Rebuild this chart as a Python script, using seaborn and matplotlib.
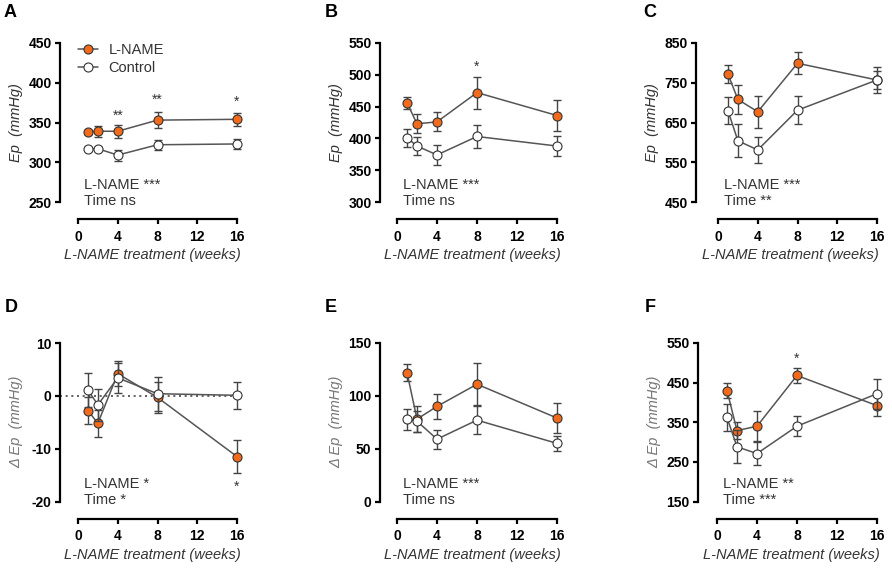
import numpy as np
import pandas as pd
import matplotlib.pyplot as plt
import seaborn as sns

# ── data ────────────────────────────────────────────────────────
weeks = [1, 2, 4, 8, 16]

# A: Ep
a_lname = [338, 339, 339, 353, 354]
a_lname_err = [3, 7, 8, 10, 8]
a_ctrl = [317, 317, 309, 322, 323]
a_ctrl_err = [2, 2, 7, 6, 6]

# B: Ep
b_lname = [456, 423, 426, 472, 436]
b_lname_err = [9, 15, 15, 25, 24]
b_ctrl = [401, 388, 374, 403, 388]
b_ctrl_err = [14, 14, 16, 18, 16]

# C: Ep
c_lname = [772, 708, 677, 799, 757]
c_lname_err = [22, 37, 40, 28, 33]
c_ctrl = [680, 604, 581, 681, 757]
c_ctrl_err = [35, 42, 32, 35, 22]

# D: delta Ep
d_lname = [-2.8, -5.2, 4.2, -0.3, -11.5]
d_lname_err = [2.6, 2.6, 2.3, 3.0, 3.2]
d_ctrl = [1.1, -1.7, 3.4, 0.4, 0.1]
d_ctrl_err = [3.3, 3.0, 2.8, 3.2, 2.5]

# E: delta Ep
e_lname = [122, 78, 90, 111, 79]
e_lname_err = [8, 12, 12, 20, 14]
e_ctrl = [78, 76, 59, 77, 55]
e_ctrl_err = [10, 10, 9, 13, 7]

# F: delta Ep
f_lname = [430, 329, 340, 468, 392]
f_lname_err = [20, 22, 38, 20, 25]
f_ctrl = [362, 288, 271, 340, 422]
f_ctrl_err = [35, 42, 30, 25, 38]

x_ticks = [0, 4, 8, 12, 16]

# ── style ───────────────────────────────────────────────────────
sns.set_theme(style="ticks")
plt.rcParams["font.family"] = ["Liberation Sans", "DejaVu Sans"]
plt.rcParams["axes.unicode_minus"] = False

ORANGE = "#F26B1D"
EDGE = "#333333"
LINE = "#555555"
TXT = "#333333"

W, H = 892, 572
fig = plt.figure(figsize=(W / 100, H / 100), dpi=100)
fig.patch.set_facecolor("white")


def add_panel(spine_x, x0, x16, top, bottom):
    # place axes in pixel coords so the layout matches the reference
    ppu = (x16 - x0) / 16
    right = x16 + 8
    ax = fig.add_axes([spine_x / W, 1 - bottom / H,
                       (right - spine_x) / W, (bottom - top) / H])
    ax.set_xlim((spine_x - x0) / ppu, 16 + 8 / ppu)
    return ax


panels = [
    # letter, geometry, lname, lname_err, ctrl, ctrl_err, ylim, yticks, ylabel, stats, stars
    ("A", (60, 78, 237, 43, 202), a_lname, a_lname_err, a_ctrl, a_ctrl_err,
     (250, 450), [250, 300, 350, 400, 450], "Ep  (mmHg)",
     "L-NAME ***\nTime ns", [(4, 358, "**"), (8, 378, "**"), (16, 376, "*")]),
    ("B", (380, 397, 557, 43, 202), b_lname, b_lname_err, b_ctrl, b_ctrl_err,
     (300, 550), [300, 350, 400, 450, 500, 550], "Ep  (mmHg)",
     "L-NAME ***\nTime ns", [(8, 512, "*")]),
    ("C", (696, 718, 877, 43, 202), c_lname, c_lname_err, c_ctrl, c_ctrl_err,
     (450, 850), [450, 550, 650, 750, 850], "Ep  (mmHg)",
     "L-NAME ***\nTime **", []),
    ("D", (60, 78, 237, 343, 501.5), d_lname, d_lname_err, d_ctrl, d_ctrl_err,
     (-20, 10), [-20, -10, 0, 10], "Δ Ep  (mmHg)",
     "L-NAME *\nTime *", [(16, -17.3, "*")]),
    ("E", (380, 397, 557, 343, 501.5), e_lname, e_lname_err, e_ctrl, e_ctrl_err,
     (0, 150), [0, 50, 100, 150], "Δ Ep  (mmHg)",
     "L-NAME ***\nTime ns", []),
    ("F", (698, 717, 877, 343, 501.5), f_lname, f_lname_err, f_ctrl, f_ctrl_err,
     (150, 550), [150, 250, 350, 450, 550], "Δ Ep  (mmHg)",
     "L-NAME **\nTime ***", [(8, 510, "*")]),
]

for i, (letter, geo, ln, ln_err, ct, ct_err, ylim, yticks, ylab, stats, stars) in enumerate(panels):
    spine_x, x0, x16, top, bottom = geo
    ax = add_panel(*geo)
    width_px = x16 + 8 - spine_x

    # L-NAME series
    ax.errorbar(weeks, ln, yerr=ln_err, fmt="none", ecolor="#444444",
                elinewidth=1, capsize=3, capthick=1, zorder=2, clip_on=False)
    sns.lineplot(x=weeks, y=ln, ax=ax, color=LINE, linewidth=1.1, marker="o",
                 markersize=6.5, markerfacecolor=ORANGE, markeredgecolor=EDGE,
                 markeredgewidth=0.8, label="L-NAME", zorder=3, clip_on=False)
    # Control series
    ax.errorbar(weeks, ct, yerr=ct_err, fmt="none", ecolor="#444444",
                elinewidth=1, capsize=3, capthick=1, zorder=4, clip_on=False)
    sns.lineplot(x=weeks, y=ct, ax=ax, color=LINE, linewidth=1.1, marker="o",
                 markersize=6.5, markerfacecolor="white", markeredgecolor=EDGE,
                 markeredgewidth=0.8, label="Control", zorder=5, clip_on=False)

    if letter == "D":
        ax.hlines(0, ax.get_xlim()[0], 16, colors="#444444",
                  linestyles=(0, (1.2, 2.2)), linewidth=1.2, zorder=1)

    ax.set_ylim(*ylim)
    ax.set_yticks(yticks)
    ax.set_xticks(x_ticks)
    ax.set_xlabel("L-NAME treatment (weeks)", fontsize=10.5, fontstyle="italic",
                  color=TXT, labelpad=3)
    ylab_color = TXT if i < 3 else "#777777"
    ax.set_ylabel(ylab, fontsize=10.5, fontstyle="italic", color=ylab_color)
    ax.yaxis.set_label_coords(-37 / width_px, 0.5)

    for side in ["top", "right"]:
        ax.spines[side].set_visible(False)
    for side in ["left", "bottom"]:
        ax.spines[side].set_linewidth(1.6)
        ax.spines[side].set_color("black")
    ax.spines["bottom"].set_position(("outward", 12.5))
    ax.spines["bottom"].set_bounds(0, 16)
    ax.tick_params(axis="both", direction="out", length=3.6, width=1.6,
                   colors="black", labelsize=10, pad=2.5)
    ax.tick_params(axis="x", pad=4)
    for lab in ax.get_xticklabels() + ax.get_yticklabels():
        lab.set_fontweight("bold")

    # stats text
    ax.text((x0 + 6 - spine_x) / width_px, 0.058, stats, transform=ax.transAxes,
            ha="left", va="center", fontsize=10.5, color=TXT, linespacing=1.15)

    for sx, sy, s in stars:
        ax.text(sx, sy, s, ha="center", va="center", fontsize=10, color=TXT)

    if letter == "A":
        ax.legend(loc="upper left", bbox_to_anchor=((78 - spine_x) / width_px, 1.0),
                  frameon=False, fontsize=10.5, handlelength=1.4,
                  handletextpad=0.7, labelspacing=0.3, borderaxespad=0,
                  borderpad=0, labelcolor=TXT)
    else:
        leg = ax.get_legend()
        if leg is not None:
            leg.remove()

    # panel letter
    ly = 4 if i < 3 else 299
    lx = {"A": 4, "B": 325, "C": 643, "D": 5, "E": 325, "F": 645}[letter]
    fig.text(lx / W, 1 - ly / H, letter, fontsize=13, fontweight="bold",
             ha="left", va="top", color="black")

plt.savefig("out.png", dpi=100, facecolor="white")
plt.close()
